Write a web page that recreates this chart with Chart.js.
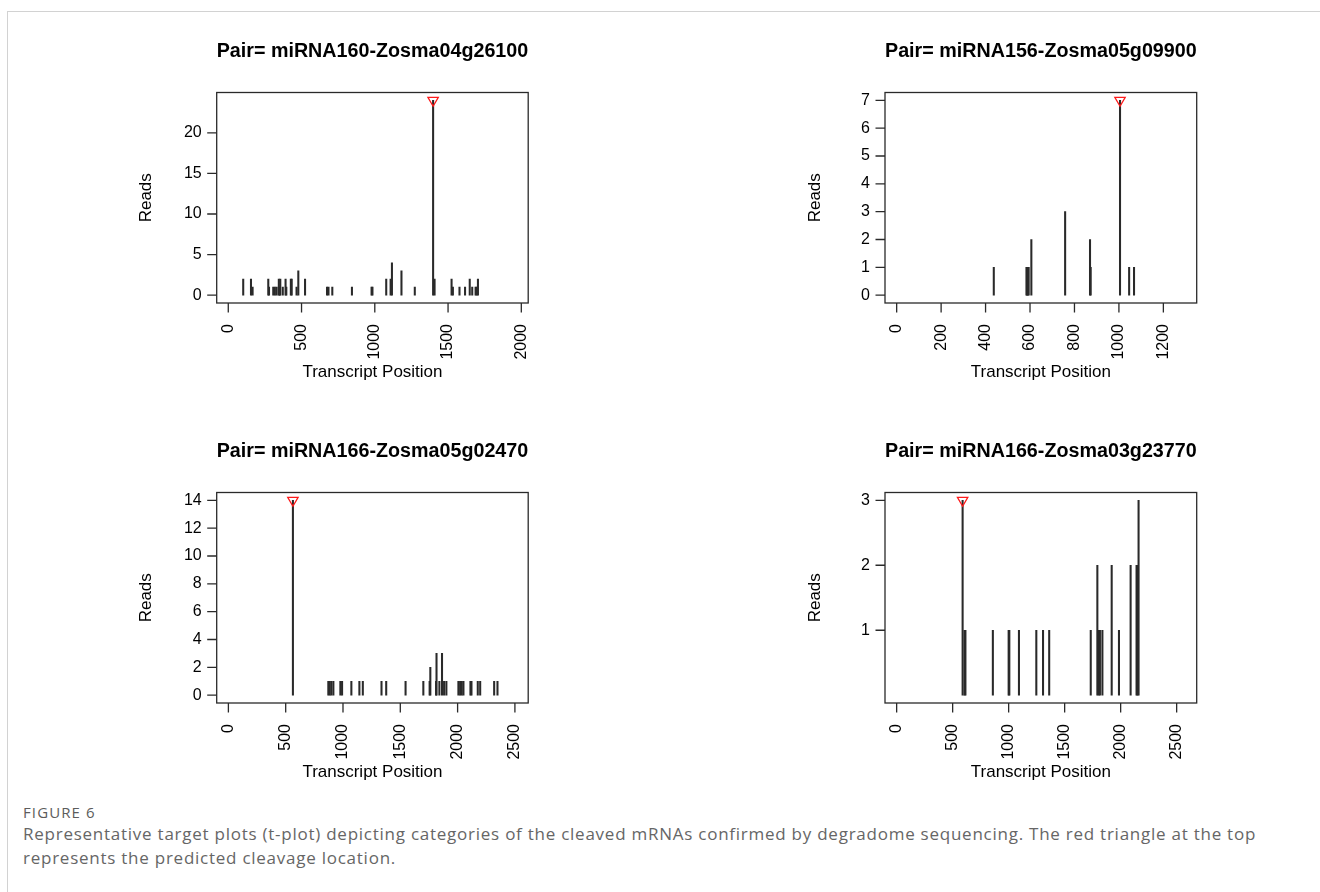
<!DOCTYPE html>
<html>
<head>
<meta charset="utf-8">
<script src="https://cdn.jsdelivr.net/npm/chart.js@4.4.1/dist/chart.umd.min.js"></script>
<style>
  html, body { margin: 0; padding: 0; background: #fff; }
  body { width: 1320px; height: 892px; position: relative; overflow: hidden; }
  .frame { position: absolute; left: 7px; top: 11px; width: 1400px; height: 1000px;
           border-top: 1px solid #d2d2d2; border-left: 1px solid #d2d2d2; }
  canvas { position: absolute; }
  .fig { position: absolute; left: 23px; top: 802px; font: 15px "Open Sans", sans-serif; letter-spacing: 1.1px; color: #5c5c5c; }
  .cap { position: absolute; left: 23px; top: 822px; font: 17px/24px "Open Sans", sans-serif; letter-spacing: 0.75px; color: #666; white-space: nowrap; }
</style>
</head>
<body>
<div class="frame"></div>
<canvas id="c1" width="660" height="400" style="left:0;top:0"></canvas>
<canvas id="c2" width="660" height="400" style="left:660px;top:0"></canvas>
<canvas id="c3" width="660" height="400" style="left:0;top:400px"></canvas>
<canvas id="c4" width="660" height="400" style="left:660px;top:400px"></canvas>
<div class="fig">FIGURE 6</div>
<div class="cap">Representative target plots (t-plot) depicting categories of the cleaved mRNAs confirmed by degradome sequencing. The red triangle at the top<br>represents the predicted cleavage location.</div>
<script>
// Panel 1: miRNA160-Zosma04g26100
const p1Title = 'Pair= miRNA160-Zosma04g26100';
const p1Pos   = [102, 155, 166, 273, 278, 307, 318, 330, 345, 350, 355, 372, 391, 396, 427, 433, 466, 478, 524, 674, 684, 710, 844, 978, 984, 1078, 1108, 1117, 1182, 1273, 1398, 1408, 1524, 1533, 1578, 1616, 1648, 1665, 1688, 1695, 1704];
const p1Reads = [2, 2, 1, 2, 1, 1, 1, 1, 2, 1, 2, 1, 2, 1, 2, 2, 1, 3, 2, 1, 1, 1, 1, 1, 1, 2, 2, 4, 3, 1, 24, 2, 2, 1, 1, 1, 2, 1, 1, 1, 2];
const p1Cleave = [1398];
const p1CleaveReads = [24];
const p1XTicks = [0, 500, 1000, 1500, 2000];
const p1YTicks = [0, 5, 10, 15, 20];

// Panel 2: miRNA156-Zosma05g09900
const p2Title = 'Pair= miRNA156-Zosma05g09900';
const p2Pos   = [437, 584, 587, 590, 594, 606, 758, 870, 873, 1005, 1046, 1068];
const p2Reads = [1, 1, 1, 1, 1, 2, 3, 2, 1, 7, 1, 1];
const p2Cleave = [1005];
const p2CleaveReads = [7];
const p2XTicks = [0, 200, 400, 600, 800, 1000, 1200];
const p2YTicks = [0, 1, 2, 3, 4, 5, 6, 7];

// Panel 3: miRNA166-Zosma05g02470
const p3Title = 'Pair= miRNA166-Zosma05g02470';
const p3Pos   = [563, 872, 884, 898, 916, 977, 992, 1073, 1143, 1173, 1336, 1377, 1546, 1701, 1756, 1762, 1812, 1816, 1841, 1864, 1882, 1902, 2007, 2022, 2036, 2051, 2112, 2121, 2176, 2197, 2319, 2348];
const p3Reads = [14, 1, 1, 1, 1, 1, 1, 1, 1, 1, 1, 1, 1, 1, 1, 2, 1, 3, 1, 3, 1, 1, 1, 1, 1, 1, 1, 1, 1, 1, 1, 1];
const p3Cleave = [563];
const p3CleaveReads = [14];
const p3XTicks = [0, 500, 1000, 1500, 2000, 2500];
const p3YTicks = [0, 2, 4, 6, 8, 10, 12, 14];

// Panel 4: miRNA166-Zosma03g23770
const p4Title = 'Pair= miRNA166-Zosma03g23770';
const p4Pos   = [589, 606, 614, 859, 1000, 1006, 1092, 1247, 1307, 1362, 1733, 1792, 1804, 1815, 1837, 1920, 1985, 2089, 2142, 2150, 2160];
const p4Reads = [3, 1, 1, 1, 1, 1, 1, 1, 1, 1, 1, 2, 1, 1, 1, 2, 1, 2, 2, 2, 3];
const p4Cleave = [589];
const p4CleaveReads = [3];
const p4XTicks = [0, 500, 1000, 1500, 2000, 2500];
const p4YTicks = [1, 2, 3];

const FONT = '"Liberation Sans", Arial, Helvetica, sans-serif';
const INK = '#2a2a2a';

// R-style box + outward ticks
const rFrame = {
    id: 'rFrame',
    afterDatasetsDraw(chart) {
        const { ctx, chartArea: ca, scales } = chart;
        ctx.save();
        ctx.strokeStyle = INK;
        ctx.lineWidth = 1.3;
        ctx.strokeRect(ca.left, ca.top, ca.right - ca.left, ca.bottom - ca.top);
        ctx.beginPath();
        scales.y.ticks.forEach(t => {
            const py = scales.y.getPixelForValue(t.value);
            ctx.moveTo(ca.left, py);
            ctx.lineTo(ca.left - 9.5, py);
        });
        scales.x.ticks.forEach(t => {
            const px = scales.x.getPixelForValue(t.value);
            ctx.moveTo(px, ca.bottom);
            ctx.lineTo(px, ca.bottom + 9.5);
        });
        ctx.stroke();
        ctx.restore();
    }
};

function makePanel(p) {
    const yWidth = 90;
    const xHeight = 97;
    return new Chart(document.getElementById(p.id), {
        data: {
            datasets: [
                {
                    type: 'scatter',
                    data: p.cleave.map((x, i) => ({ x, y: p.cleaveReads[i] })),
                    pointStyle: 'triangle',
                    rotation: 180,
                    radius: 6,
                    borderColor: '#ff1a1a',
                    backgroundColor: 'rgba(0,0,0,0)',
                    borderWidth: 1.3,
                    order: 0
                },
                {
                    type: 'bar',
                    data: p.pos.map((x, i) => ({ x, y: p.reads[i] })),
                    backgroundColor: INK,
                    barThickness: 1.4,
                    borderWidth: 0,
                    order: 1
                }
            ]
        },
        options: {
            responsive: false,
            animation: false,
            events: [],
            layout: { padding: { left: p.left - yWidth, right: 660 - p.right, top: 0, bottom: 0 } },
            plugins: {
                legend: { display: false },
                tooltip: { enabled: false },
                title: {
                    display: true,
                    text: p.title,
                    fullSize: false,
                    color: '#000',
                    font: { family: FONT, size: 20, weight: 'bold', lineHeight: 1.2 },
                    padding: { top: 39.5, bottom: 29 }
                }
            },
            scales: {
                x: {
                    type: 'linear',
                    position: 'bottom',
                    offset: false,
                    min: p.xMin,
                    max: p.xMax,
                    grid: { display: false, drawTicks: false },
                    border: { display: false },
                    afterBuildTicks: s => { s.ticks = p.xTicks.map(v => ({ value: v })); },
                    afterFit: s => { s.height = xHeight; },
                    ticks: {
                        autoSkip: false,
                        minRotation: 90,
                        maxRotation: 90,
                        padding: 21,
                        color: '#000',
                        font: { family: FONT, size: 16 },
                        callback: v => String(v)
                    },
                    title: {
                        display: true,
                        text: 'Transcript Position',
                        color: '#000',
                        font: { family: FONT, size: 17, lineHeight: 1.2 },
                        padding: { top: 0, bottom: 17.3 }
                    }
                },
                y: {
                    type: 'linear',
                    min: p.yMin,
                    max: p.yMax,
                    grid: { display: false, drawTicks: false },
                    border: { display: false },
                    afterBuildTicks: s => { s.ticks = p.yTicks.map(v => ({ value: v })); },
                    afterFit: s => { s.width = yWidth; },
                    ticks: {
                        padding: 15,
                        color: '#000',
                        font: { family: FONT, size: 16 },
                        callback: v => String(v)
                    },
                    title: {
                        display: true,
                        text: 'Reads',
                        color: '#000',
                        font: { family: FONT, size: 17, lineHeight: 1.2 },
                        padding: { top: 9.8, bottom: 0 }
                    }
                }
            }
        },
        plugins: [rFrame]
    });
}

makePanel({ id: 'c1', title: p1Title, pos: p1Pos, reads: p1Reads, cleave: p1Cleave, cleaveReads: p1CleaveReads,
    xTicks: p1XTicks, yTicks: p1YTicks, xMin: -79, xMax: 2047, yMin: -0.96, yMax: 24.96, left: 216.7, right: 528.2 });
makePanel({ id: 'c2', title: p2Title, pos: p2Pos, reads: p2Reads, cleave: p2Cleave, cleaveReads: p2CleaveReads,
    xTicks: p2XTicks, yTicks: p2YTicks, xMin: -52.5, xMax: 1350, yMin: -0.28, yMax: 7.28, left: 225, right: 536.7 });
makePanel({ id: 'c3', title: p3Title, pos: p3Pos, reads: p3Reads, cleave: p3Cleave, cleaveReads: p3CleaveReads,
    xTicks: p3XTicks, yTicks: p3YTicks, xMin: -102, xMax: 2616, yMin: -0.56, yMax: 14.56, left: 216.7, right: 528.2 });
makePanel({ id: 'c4', title: p4Title, pos: p4Pos, reads: p4Reads, cleave: p4Cleave, cleaveReads: p4CleaveReads,
    xTicks: p4XTicks, yTicks: p4YTicks, xMin: -104, xMax: 2679, yMin: -0.12, yMax: 3.12, left: 225, right: 536.7 });
</script>
</body>
</html>
